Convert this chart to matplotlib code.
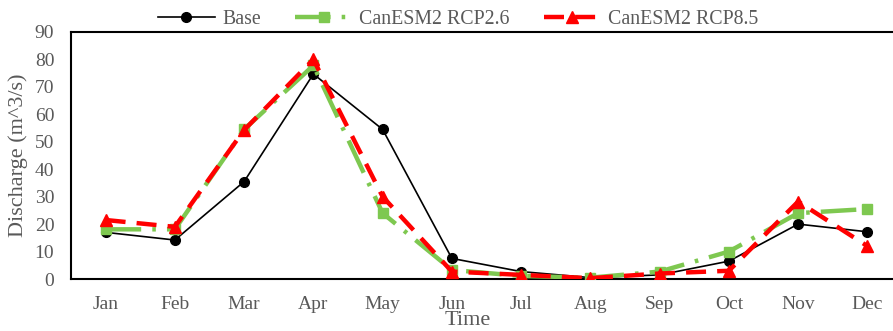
import matplotlib
matplotlib.use("Agg")
import matplotlib.pyplot as plt

months = ["Jan", "Feb", "Mar", "Apr", "May", "Jun", "Jul", "Aug", "Sep", "Oct", "Nov", "Dec"]
base = [17.0, 14.2, 35.5, 74.7, 54.5, 7.5, 2.7, 0.5, 1.5, 6.5, 20.0, 17.2]
rcp26 = [18.1, 18.1, 54.5, 77.8, 24.0, 3.3, 1.1, 0.5, 2.7, 10.0, 24.0, 25.5]
rcp85 = [21.5, 19.0, 54.3, 80.0, 30.0, 2.7, 1.5, 0.3, 2.0, 3.0, 28.2, 12.0]
yticks = [0, 10, 20, 30, 40, 50, 60, 70, 80, 90]

plt.rcParams['font.family'] = ['Liberation Serif', 'DejaVu Serif']
grey = '#595959'

fig = plt.figure(figsize=(8.93, 3.31), dpi=100)
ax = fig.add_axes([71/893, 1-279/331, (902-71)/893, (279-32)/331])

x = list(range(len(months)))
ax.plot(x, base, color='black', lw=1.2, marker='o', ms=7, label='Base', zorder=3)
ax.plot(x, rcp26, color='#7ec850', lw=3.2, marker='s', ms=7, dashes=(8, 2.5, 0.8, 2.5),
        label='CanESM2 RCP2.6', zorder=4)
ax.plot(x, rcp85, color='#ff0000', lw=3.2, marker='^', ms=8, dashes=(4.5, 2.5),
        label='CanESM2 RCP8.5', zorder=5)

ax.set_xlim(-0.5, 11.5)
ax.set_ylim(0, 90)
ax.set_xticks(x)
ax.set_xticklabels(months)
ax.set_yticks(yticks)
ax.tick_params(axis='both', length=0, labelsize=14, labelcolor=grey)
ax.tick_params(axis='x', pad=12)
ax.tick_params(axis='y', pad=12)
for s in ['left', 'top', 'bottom']:
    ax.spines[s].set_color('black')
    ax.spines[s].set_linewidth(1.5)
ax.spines['right'].set_visible(False)

ax.set_ylabel('Discharge (m^3/s)', fontsize=16, color=grey, labelpad=5)
ax.set_xlabel('Time', fontsize=16, color=grey)
ax.xaxis.set_label_coords((468-71)/831, -(330-279)/247, transform=ax.transAxes)
ax.xaxis.label.set_va('bottom')

leg = fig.legend(loc='upper center', bbox_to_anchor=(458/893, 1.025), ncol=3, frameon=False,
                 fontsize=14.3, handlelength=2.9, columnspacing=1.7, handletextpad=0.35)
for t in leg.get_texts():
    t.set_color(grey)

fig.savefig('out.png', dpi=100)
